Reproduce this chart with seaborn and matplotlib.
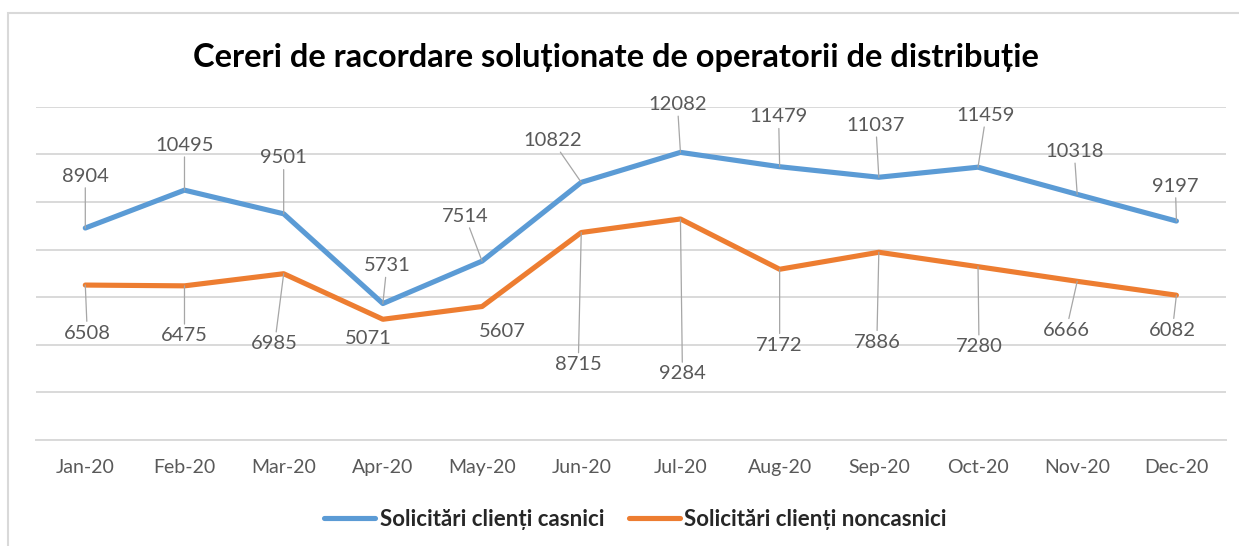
import numpy as np
import pandas as pd
import seaborn as sns
import matplotlib.pyplot as plt
from matplotlib.lines import Line2D
from matplotlib.patches import Rectangle

months = ['Jan-20', 'Feb-20', 'Mar-20', 'Apr-20', 'May-20', 'Jun-20',
          'Jul-20', 'Aug-20', 'Sep-20', 'Oct-20', 'Nov-20', 'Dec-20']
casnici = [8904, 10495, 9501, 5731, 7514, 10822, 12082, 11479, 11037, 11459, 10318, 9197]
noncasnici = [6508, 6475, 6985, 5071, 5607, 8715, 9284, 7172, 7886, 7280, 6666, 6082]
series_names = ['Solicitări clienți casnici', 'Solicitări clienți noncasnici']
title = 'Cereri de racordare soluționate de operatorii de distribuție'

# where each data label sits relative to its point, in pixels (dx, dy up)
casnici_offsets = [(0, 52), (0, 45), (0, 56), (4, 38), (-17, 45), (-29, 42),
                   (-3, 48), (-1, 50), (-3, 52), (8, 52), (-3, 43), (-1, 35)]
noncasnici_offsets = [(2, -48), (0, -50), (-9, -70), (-15, -19), (20, -25), (-3, -132),
                      (2, -155), (0, -76), (-2, -90), (1, -80), (-11, -49), (-4, -35)]

colors = ['#5B9BD5', '#ED7D31']
grid_col = '#D9D9D9'
text_col = '#595959'

sns.set_style('white')
plt.rcParams['font.family'] = ['Lato', 'DejaVu Sans']

df = pd.DataFrame({
    'pos': np.tile(np.arange(len(months)), 2),
    'value': casnici + noncasnici,
    'series': np.repeat(series_names, len(months)),
})

fig = plt.figure(figsize=(12.39, 5.46), dpi=100)
W, H = 1239, 546
ax = fig.add_axes([35.7 / W, 1 - 440 / H, (1226 - 35.7) / W, (440 - 106.7) / H])

sns.lineplot(data=df, x='pos', y='value', hue='series', palette=colors,
             linewidth=3.7, legend=False, sort=False, ax=ax)
for ln in ax.lines:
    ln.set_solid_capstyle('round')
    ln.set_solid_joinstyle('round')
    ln.set_clip_on(False)

ax.set_xlim(-0.5, len(months) - 0.5)
ax.set_ylim(0, 14000)
ax.set_yticks(np.arange(0, 14001, 2000))
ax.yaxis.grid(True, color=grid_col, lw=1.4)
ax.set_axisbelow(True)
ax.tick_params(axis='y', length=0, labelleft=False)
for s in ['top', 'right', 'left']:
    ax.spines[s].set_visible(False)
ax.spines['bottom'].set_color(grid_col)
ax.spines['bottom'].set_linewidth(1.4)

ax.set_xticks(np.arange(len(months)))
ax.set_xticklabels(months)
ax.set_xticks(np.arange(-0.5, len(months)), minor=True)
ax.tick_params(axis='x', which='major', length=0, pad=14, labelsize=14, labelcolor=text_col)
ax.tick_params(axis='x', which='minor', length=4.5, width=1, color=grid_col)
ax.set_xlabel('')
ax.set_ylabel('')

# data labels with leader lines
for vals, offs in [(casnici, casnici_offsets), (noncasnici, noncasnici_offsets)]:
    for i, (v, (dx, dy)) in enumerate(zip(vals, offs)):
        arrow = None
        if np.hypot(dx, dy) > 33.5:
            arrow = dict(arrowstyle='-', color='#A6A6A6', lw=0.9, shrinkA=0, shrinkB=0)
        ax.annotate(str(v), xy=(i, v), xytext=(dx, dy), textcoords='offset pixels',
                    ha='center', va='center', fontsize=14.5, color=text_col,
                    arrowprops=arrow, annotation_clip=False)

fig.text(616 / W, 1 - 58 / H, title, ha='center', va='center',
         fontsize=23.5, fontweight='bold', color='black')

handles = [Line2D([], [], color=c, lw=3.7, solid_capstyle='round') for c in colors]
fig.legend(handles, series_names, loc='center', bbox_to_anchor=(0.513, 1 - 519 / H),
           ncol=2, frameon=False, prop={'weight': 'bold', 'size': 16},
           handlelength=2.3, handletextpad=0.2, columnspacing=1.1)

fig.patches.append(Rectangle((8 / W, -0.1), 1.2, 1 - 13 / H + 0.1, transform=fig.transFigure,
                             fill=False, ec=grid_col, lw=1.5))

fig.savefig('out.png', dpi=100)
